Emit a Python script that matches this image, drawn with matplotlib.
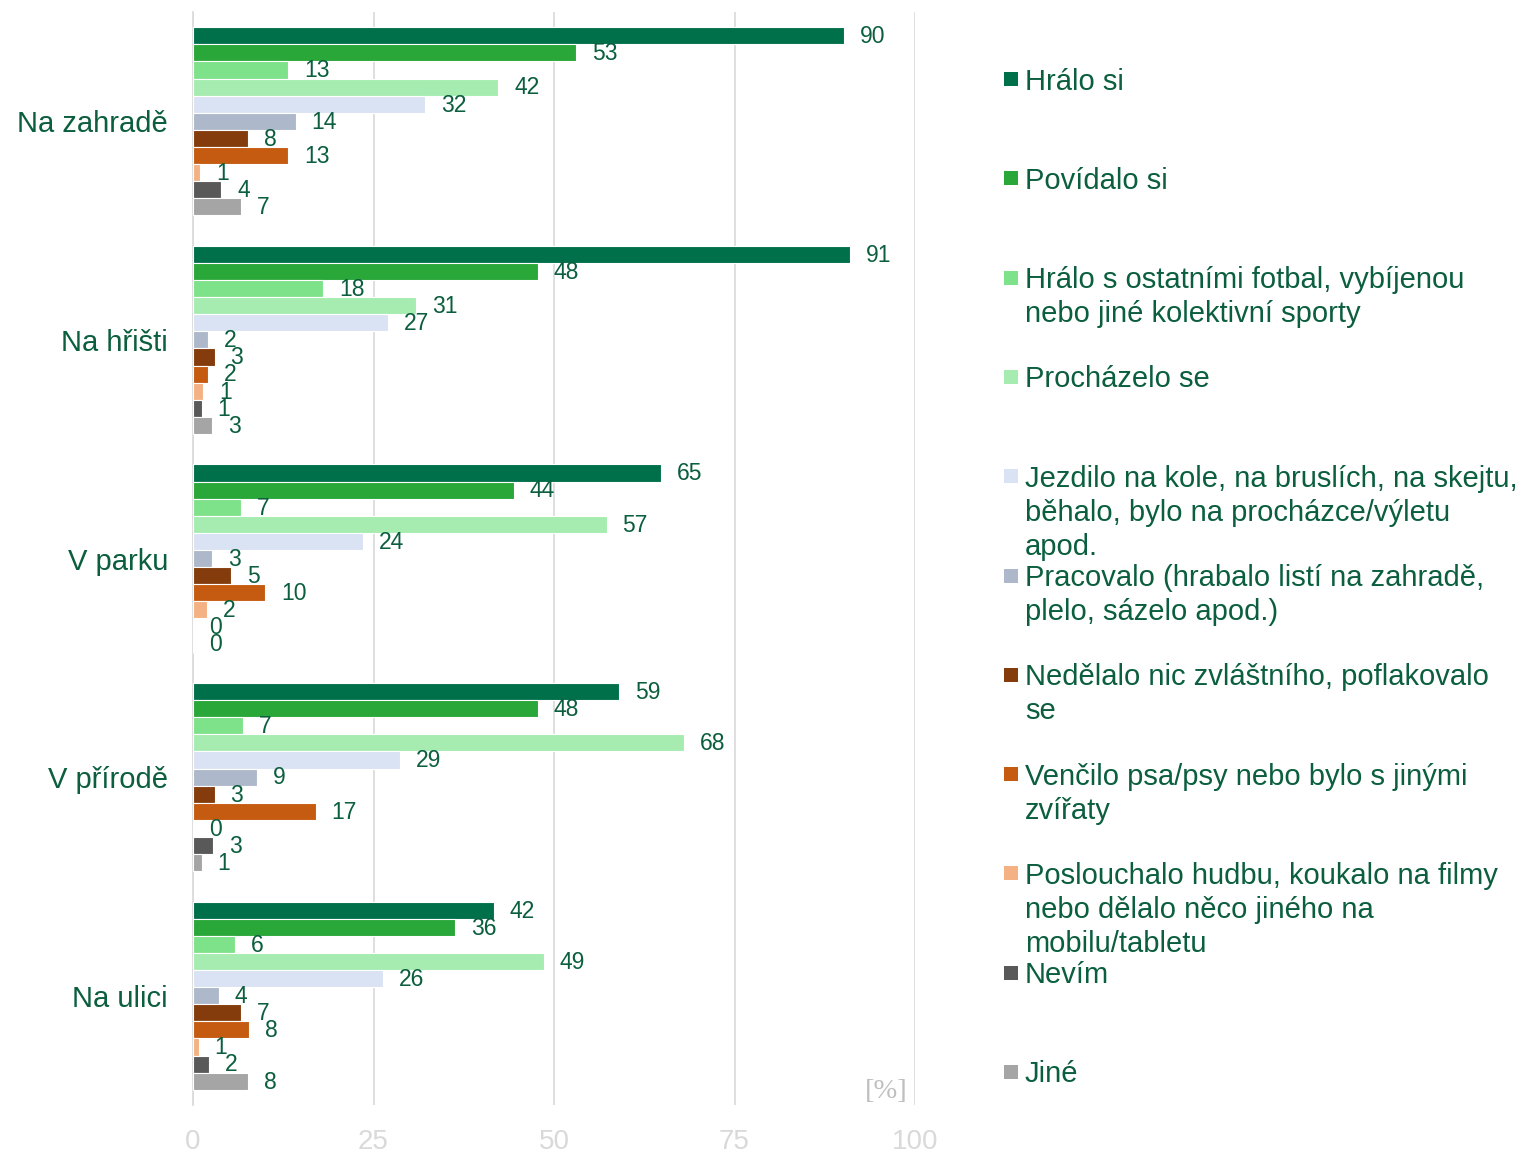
import matplotlib
matplotlib.use("Agg")
import matplotlib.pyplot as plt
from matplotlib.patches import Rectangle
import numpy as np

plt.rcParams['font.family'] = ['Liberation Sans', 'DejaVu Sans']

categories = ["Na zahradě", "Na hřišti", "V parku", "V přírodě", "Na ulici"]

series_names = [
    "Hrálo si",
    "Povídalo si",
    "Hrálo s ostatními fotbal, vybíjenou\nnebo jiné kolektivní sporty",
    "Procházelo se",
    "Jezdilo na kole, na bruslích, na skejtu,\nběhalo, bylo na procházce/výletu\napod.",
    "Pracovalo (hrabalo listí na zahradě,\nplelo, sázelo apod.)",
    "Nedělalo nic zvláštního, poflakovalo\nse",
    "Venčilo psa/psy nebo bylo s jinými\nzvířaty",
    "Poslouchalo hudbu, koukalo na filmy\nnebo dělalo něco jiného na\nmobilu/tabletu",
    "Nevím",
    "Jiné",
]

colors = ["#00704A", "#29A738", "#7EE28A", "#A6ECB0", "#DAE3F3", "#ADB9CA",
          "#843C0C", "#C55A11", "#F4B183", "#595959", "#A5A5A5"]

# values per category (order of series_names)
na_zahrade = [90.2, 53.1, 13.2, 42.3, 32.2, 14.2, 7.6, 13.2, 1.0, 3.9, 6.7]
na_hristi  = [91.0, 47.8, 18.0, 30.9, 27.0, 2.1, 3.0, 2.1, 1.4, 1.2, 2.6]
v_parku    = [64.8, 44.4, 6.6, 57.3, 23.6, 2.6, 5.3, 10.0, 1.9, 0.0, 0.0]
v_prirode  = [59.0, 47.8, 6.9, 68.0, 28.7, 8.9, 3.0, 17.0, 0.0, 2.8, 1.2]
na_ulici   = [41.7, 36.3, 5.8, 48.6, 26.3, 3.6, 6.6, 7.8, 0.8, 2.2, 7.6]

data = np.array([na_zahrade, na_hristi, v_parku, v_prirode, na_ulici])

xticks = [0, 25, 50, 75, 100]

W, H = 1522, 1153
fig = plt.figure(figsize=(W / 100, H / 100), dpi=100)
ax = fig.add_axes([193 / W, 1 - 1105 / H, (915 - 193) / W, (1105 - 12) / H])

text_green = "#0B5E3E"
n_series = len(series_names)
bar_h = 0.0782
ypos = np.arange(len(categories))
for j in range(n_series):
    yy = ypos + (j - (n_series - 1) / 2) * bar_h
    vals = data[:, j]
    ax.barh(yy, vals, height=bar_h, color=colors[j], edgecolor="white",
            linewidth=0.8, zorder=3)
    for y, v in zip(yy, vals):
        ax.text(v + 2.2, y + 0.004, f"{v:.0f}", va="center", ha="left",
                fontsize=16.5, color=text_green, zorder=4)

ax.set_xlim(0, 100)
ax.set_ylim(len(categories) - 0.5, -0.5)
ax.set_xticks(xticks)
ax.set_xticklabels([str(t) for t in xticks])
ax.set_yticks(ypos)
ax.set_yticklabels(categories)
ax.tick_params(axis="x", length=0, pad=17, labelsize=20, labelcolor="#D9D9D9")
ax.tick_params(axis="y", length=0, pad=18, labelsize=21, labelcolor=text_green)
ax.grid(axis="x", color="#D9D9D9", linewidth=1.2, zorder=0)
for s in ["top", "right", "bottom"]:
    ax.spines[s].set_visible(False)
ax.spines["left"].set_color("#D9D9D9")
ax.spines["left"].set_linewidth(1.2)

ax.text(908 / W, 1 - 1092 / H, "[%]", transform=fig.transFigure,
        ha="right", va="center", fontsize=20.5, color="#BFBFBF",
        family="Liberation Serif")

# legend (manual)
y0 = 79
step = 99.3
line_gap = 34
for k, (name, c) in enumerate(zip(series_names, colors)):
    yc = y0 + k * step
    fig.patches.append(Rectangle((1004 / W, 1 - (yc + 7) / H), 14 / W, 14 / H,
                                 transform=fig.transFigure, facecolor=c,
                                 edgecolor="none"))
    for li, line in enumerate(name.split("\n")):
        yb = yc + 10.5 + li * line_gap
        fig.text(1025 / W, 1 - yb / H, line, ha="left", va="baseline",
                 fontsize=21, color=text_green)

fig.savefig("out.png", dpi=100)
